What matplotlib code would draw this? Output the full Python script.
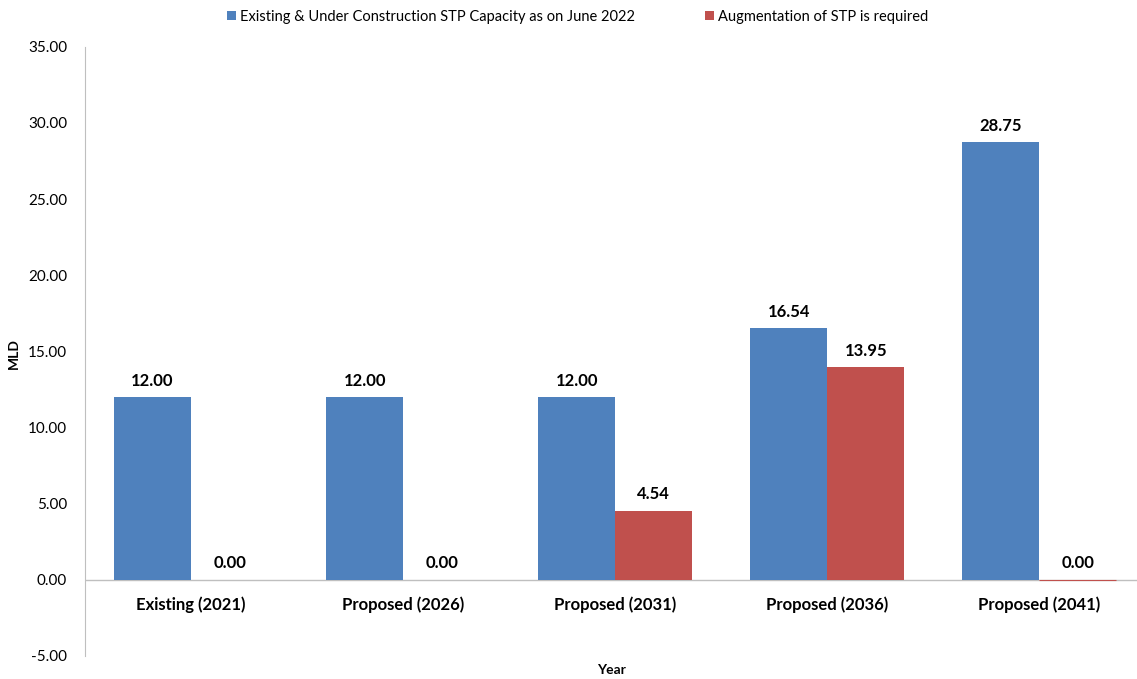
import numpy as np
import matplotlib.pyplot as plt

# Data
categories = ["Existing (2021)", "Proposed (2026)", "Proposed (2031)",
              "Proposed (2036)", "Proposed (2041)"]
existing = [12.00, 12.00, 12.00, 16.54, 28.75]
augmentation = [0.00, 0.00, 4.54, 13.95, 0.00]
series_names = ["Existing & Under Construction STP Capacity as on June 2022",
                "Augmentation of STP is required"]

plt.rcParams['font.family'] = ['Lato', 'DejaVu Sans']

blue = '#4F81BD'
red = '#C0504D'
grey = '#BFBFBF'

fig = plt.figure(figsize=(11.37, 6.79), dpi=100)
ax = fig.add_axes([0.0748, 0.034, 0.9252, 0.897])

x = np.arange(len(categories))
w = 0.363
b1 = ax.bar(x - w / 2, existing, w, color=blue, label=series_names[0])
b2 = ax.bar(x + w / 2, augmentation, w, color=red, label=series_names[1],
            linewidth=0)
# last augmentation bar shows as a thin red line on the axis
b2[-1].set_edgecolor(red)
b2[-1].set_linewidth(0.8)

for bars, vals in ((b1, existing), (b2, augmentation)):
    for rect, v in zip(bars, vals):
        ax.annotate(f"{v:.2f}", (rect.get_x() + rect.get_width() / 2, v),
                    xytext=(0, 6), textcoords='offset points',
                    ha='center', va='bottom', fontsize=12, fontweight='bold')

ax.set_ylim(-5, 35)
ax.set_yticks(np.arange(-5, 36, 5))
ax.set_yticklabels([f"{t:.2f}" for t in np.arange(-5, 36, 5)], fontsize=11)
ax.set_xlim(-0.5, 4.46)
ax.set_xticks([])

for s in ('top', 'right', 'bottom'):
    ax.spines[s].set_visible(False)
ax.spines['left'].set_color(grey)
ax.axhline(0, color=grey, linewidth=1, zorder=0)
ax.tick_params(axis='y', length=0, pad=13)

# category labels sit just under the zero line
for xi, c in zip(x, categories):
    ax.annotate(c, (xi, 0), xytext=(0, -12), textcoords='offset points',
                ha='center', va='top', fontsize=12, fontweight='bold')

fig.text(0.012, 0.48, "MLD", rotation=90, ha='center', va='center',
         fontsize=10, fontweight='bold')
fig.text(0.538, 0.013, "Year", ha='center', va='center',
         fontsize=10, fontweight='bold')

fig.legend(loc='upper center', bbox_to_anchor=(0.508, 1.005), ncol=2,
           frameon=False, fontsize=10.5, handlelength=0.6, handleheight=0.6,
           handletextpad=0.3, columnspacing=4.8)

fig.savefig("out.png", dpi=100)
